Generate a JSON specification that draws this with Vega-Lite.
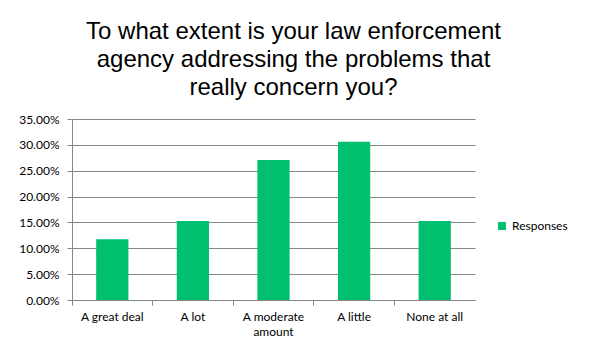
{
  "$schema": "https://vega.github.io/schema/vega-lite/v6.json",
  "autosize": "none",
  "width": 403,
  "height": 181,
  "padding": {"left": 72, "top": 119, "right": 118, "bottom": 64},
  "background": "white",
  "title": {
    "text": ["To what extent is your law enforcement", "agency addressing the problems that", "really concern you?"],
    "font": "Liberation Sans",
    "fontSize": 24,
    "fontWeight": "normal",
    "color": "#000000",
    "lineHeight": 28,
    "anchor": "middle",
    "dx": 20,
    "offset": 13
  },
  "data": {
    "values": [
      {"answer": "A great deal", "share": 0.1176, "series": "Responses"},
      {"answer": "A lot", "share": 0.1529, "series": "Responses"},
      {"answer": "A moderate amount", "share": 0.2706, "series": "Responses"},
      {"answer": "A little", "share": 0.3059, "series": "Responses"},
      {"answer": "None at all", "share": 0.1529, "series": "Responses"}
    ]
  },
  "mark": {"type": "bar", "width": {"band": 0.4}},
  "encoding": {
    "x": {
      "field": "answer",
      "type": "nominal",
      "sort": null,
      "scale": {"paddingInner": 0, "paddingOuter": 0},
      "axis": {
        "title": null,
        "labelAngle": 0,
        "labelFont": "Lato",
        "labelFontSize": 12,
        "labelColor": "#000000",
        "labelPadding": 6,
        "labelLineHeight": 15,
        "labelExpr": "datum.value == 'A moderate amount' ? ['A moderate', 'amount'] : datum.value",
        "bandPosition": 0,
        "tickSize": 5,
        "tickColor": "#868686",
        "domainColor": "#868686",
        "grid": false
      }
    },
    "y": {
      "field": "share",
      "type": "quantitative",
      "scale": {"domain": [0, 0.35], "nice": false},
      "axis": {
        "title": null,
        "values": [0, 0.05, 0.1, 0.15, 0.2, 0.25, 0.3, 0.35],
        "format": ".2%",
        "labelFont": "Lato",
        "labelFontSize": 12,
        "labelColor": "#000000",
        "labelPadding": 8,
        "tickSize": 5,
        "tickColor": "#868686",
        "domainColor": "#868686",
        "grid": true,
        "gridColor": "#868686",
        "gridWidth": 1
      }
    },
    "color": {
      "field": "series",
      "type": "nominal",
      "scale": {"range": ["#00BF6F"]},
      "legend": {
        "title": null,
        "orient": "none",
        "legendX": 424,
        "legendY": 101,
        "symbolType": "square",
        "symbolSize": 64,
        "labelFont": "Lato",
        "labelFontSize": 12,
        "labelColor": "#000000",
        "labelOffset": 4
      }
    }
  },
  "config": {"view": {"stroke": null}}
}
